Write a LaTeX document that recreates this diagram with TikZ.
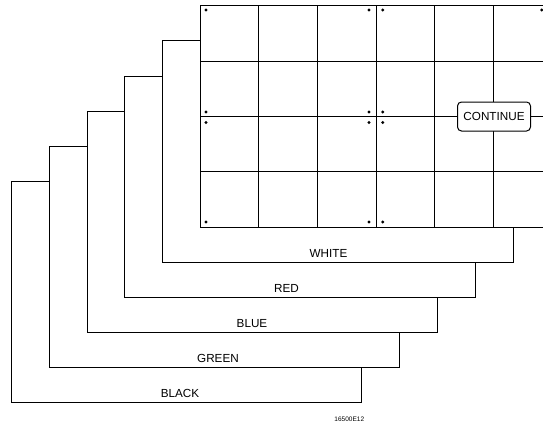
\documentclass[tikz,border=0pt]{standalone}
\usepackage{fontspec}
\setmainfont{Liberation Sans}
\begin{document}
\begin{tikzpicture}[x=1pt,y=-1pt,line width=1pt,
    sheetlabel/.style={font=\fontsize{11.7}{14}\selectfont,inner sep=0pt},
    softkey/.style={draw,fill=white,rounded corners=4pt,minimum width=73pt,
      minimum height=29pt,inner sep=0pt,font=\fontsize{11.7}{14}\selectfont}]
  \useasboundingbox (0,0) rectangle (543,428);
  % stacked sheets, front (white) to back (black)
  \foreach \i in {0,...,4} {
    \pgfmathsetmacro{\L}{162.3-37.65*\i}
    \pgfmathsetmacro{\T}{41+35*\i}
    \pgfmathsetmacro{\B}{262+35*\i}
    \pgfmathsetmacro{\R}{513.3-38*\i}
    \draw (\L+37.65,\T) -- (\L,\T) -- (\L,\B) -- (\R,\B) -- (\R,\B-35);
  }
  % front grid
  \begin{scope}
    \clip (0,0) rectangle (543,428);
    \foreach \y in {6,61.25,116.5,171.75,227}
      \draw (200.3,\y) -- (560,\y);
    \foreach \k in {0,...,5}
      \draw (200.3+58.6*\k,6) -- (200.3+58.6*\k,227);
    \foreach \x in {206,369,382.7} {
      \foreach \y in {10,112,122.5,222}
        \fill (\x,\y) circle (1.6pt);
    }
    \fill (541.7,10) circle (1.6pt);
  \end{scope}
  \node[softkey] (cont) at (494,116.5) {CONTINUE};
  \node[sheetlabel] (white) at (328.5,253.3) {WHITE};
  \node[sheetlabel] (red) at (286.5,288.3) {RED};
  \node[sheetlabel] (blue) at (252,323.3) {BLUE};
  \node[sheetlabel] (green) at (218,358.3) {GREEN};
  \node[sheetlabel] (black) at (180,393.3) {BLACK};
  \node[inner sep=0pt,font=\fontsize{6.5}{8}\selectfont] (fig) at (349.3,419) {16500E12};
\end{tikzpicture}
\end{document}
